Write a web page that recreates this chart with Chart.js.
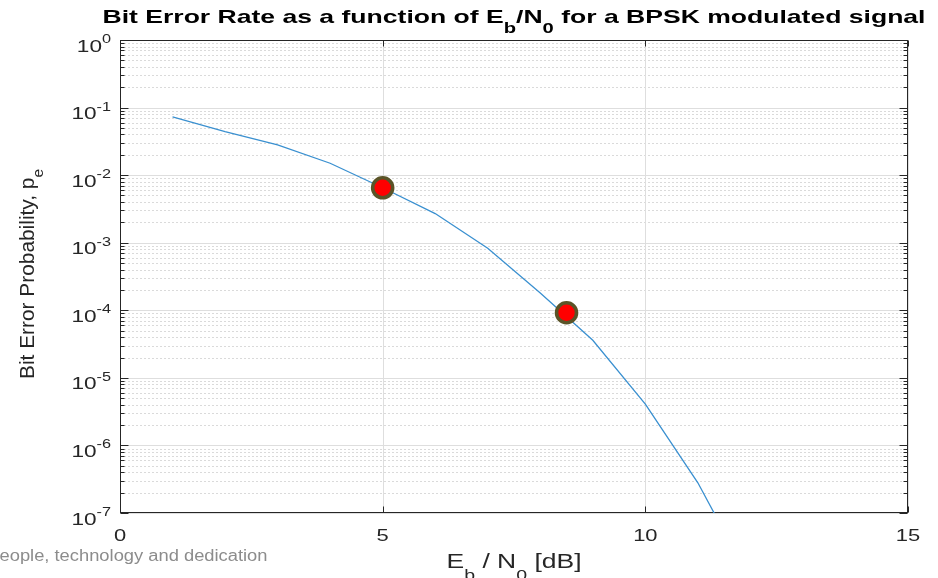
<!DOCTYPE html>
<html><head><meta charset="utf-8">
<script src="https://cdn.jsdelivr.net/npm/chart.js@4.4.1/dist/chart.umd.min.js"></script>
<style>html,body{margin:0;padding:0;background:#fff;overflow:hidden}#wrap{width:938px;height:578px;position:relative}</style>
</head><body><div id="wrap"><canvas id="c" width="938" height="578"></canvas></div>
<script>
// ---- data ----
const ebn0 = [1, 2, 3, 4, 5, 6, 7, 8, 9, 10, 11, 12];
const ber = [0.073, 0.044, 0.028, 0.015, 0.0065, 0.0027, 0.00083, 0.00018, 3.6e-5, 4.1e-6, 2.8e-7, 1e-8];
const markX = [5, 8.5];
const markY = [0.0065, 9.2e-5];
const xTicks = [0, 5, 10, 15];
const yTickExp = [0, -1, -2, -3, -4, -5, -6, -7];
const titleParts = [["Bit Error Rate as a function of E", 0], ["b", 1], ["/N", 0], ["0", 1], [" for a BPSK modulated signal", 0]];
const xLabelParts = [["E", 0], ["b", 1], [" / N", 0], ["0", 1], [" [dB]", 0]];
const yLabelParts = [["Bit Error Probability, p", 0], ["e", 1]];
const footerText = "eople, technology and dedication";

const FONT = '"Liberation Sans", Arial, Helvetica, sans-serif';

function partFont(size, mode, weight, subScale) {
  const s = mode === 0 ? size : size * subScale;
  return weight + ' ' + s.toFixed(2) + 'px ' + FONT;
}
function richWidth(ctx, parts, size, weight, subScale) {
  let w = 0;
  for (const [t, m] of parts) { ctx.font = partFont(size, m, weight, subScale); w += ctx.measureText(t).width; }
  return w;
}
function drawParts(ctx, parts, size, weight, startX, subScale, subDy, supDy) {
  let x = startX;
  for (const [t, m] of parts) {
    ctx.font = partFont(size, m, weight, subScale);
    let dy = 0;
    if (m === 1) dy = size * subDy;
    if (m === 2) dy = -size * supDy;
    ctx.fillText(t, x, dy);
    x += ctx.measureText(t).width;
  }
}
function drawRich(ctx, parts, o) {
  const weight = o.weight || 'normal';
  const subScale = o.subScale || 0.72;
  const w = richWidth(ctx, parts, o.size, weight, subScale);
  const sx = o.width ? o.width / w : (o.sx || 1);
  ctx.save();
  ctx.fillStyle = o.color || '#262626';
  ctx.textBaseline = 'alphabetic';
  ctx.textAlign = 'left';
  ctx.translate(o.x, o.y);
  if (o.rotate) ctx.rotate(o.rotate);
  ctx.scale(sx, o.sy || 1);
  let start = 0;
  if (o.align === 'center') start = -w / 2;
  else if (o.align === 'right') start = -w;
  drawParts(ctx, parts, o.size, weight, start, subScale, o.subDy || 0.5, o.supDy || 0.5);
  ctx.restore();
}

const framePlugin = {
  id: 'frame',
  beforeDatasetsDraw(chart) {
    const ctx = chart.ctx, a = chart.chartArea;
    const xs = chart.scales.x, ys = chart.scales.y;
    ctx.save();
    ctx.strokeStyle = '#dadada';
    ctx.lineWidth = 1;
    ctx.setLineDash([2, 2]);
    for (let e = -7; e < 0; e++) {
      for (let m = 2; m <= 9; m++) {
        const y = Math.round(ys.getPixelForValue(m * Math.pow(10, e))) + 0.5;
        ctx.beginPath(); ctx.moveTo(a.left, y); ctx.lineTo(a.right, y); ctx.stroke();
      }
    }
    ctx.setLineDash([]);
    ctx.strokeStyle = '#dedede';
    for (const e of yTickExp) {
      const y = Math.round(ys.getPixelForValue(Math.pow(10, e))) + 0.5;
      ctx.beginPath(); ctx.moveTo(a.left, y); ctx.lineTo(a.right, y); ctx.stroke();
    }
    for (const v of xTicks) {
      const x = Math.round(xs.getPixelForValue(v)) + 0.5;
      ctx.beginPath(); ctx.moveTo(x, a.top); ctx.lineTo(x, a.bottom); ctx.stroke();
    }
    ctx.strokeStyle = '#262626';
    const L = Math.round(a.left) + 0.5, R = Math.round(a.right) - 0.5, T = Math.round(a.top) + 0.5, B = Math.round(a.bottom) - 0.5;
    ctx.strokeRect(L, T, R - L, B - T);
    for (let e = -7; e <= 0; e++) {
      for (let m = 1; m <= 9; m++) {
        if (e === 0 && m > 1) break;
        const y = Math.round(ys.getPixelForValue(m * Math.pow(10, e))) + 0.5;
        const len = m === 1 ? 8 : 4;
        ctx.beginPath(); ctx.moveTo(L, y); ctx.lineTo(L + len, y); ctx.stroke();
        ctx.beginPath(); ctx.moveTo(R, y); ctx.lineTo(R - len, y); ctx.stroke();
      }
    }
    for (const v of xTicks) {
      const x = Math.round(xs.getPixelForValue(v)) + 0.5;
      ctx.beginPath(); ctx.moveTo(x, B); ctx.lineTo(x, B - 6); ctx.stroke();
      ctx.beginPath(); ctx.moveTo(x, T); ctx.lineTo(x, T + 6); ctx.stroke();
    }
    ctx.restore();
  },
  afterDraw(chart) {
    const ctx = chart.ctx, a = chart.chartArea;
    const xs = chart.scales.x, ys = chart.scales.y;
    for (const e of yTickExp) {
      const y = ys.getPixelForValue(Math.pow(10, e));
      drawRich(ctx, [["10", 0], [String(e), 2]], { x: 111, y: y + 11.5, size: 17, sx: 1.33, align: 'right', supDy: 0.5 });
    }
    for (const v of xTicks) {
      const x = xs.getPixelForValue(v);
      drawRich(ctx, [[String(v), 0]], { x: x, y: a.bottom + 28, size: 16.5, sx: 1.33, align: 'center' });
    }
    drawRich(ctx, titleParts, { x: 514, y: 22.7, size: 19, weight: 'bold', width: 823, align: 'center', color: '#000', subScale: 0.76, subDy: 0.55 });
    drawRich(ctx, xLabelParts, { x: 514, y: 567.7, size: 20, width: 135, align: 'center', subScale: 0.74, subDy: 0.6 });
    drawRich(ctx, yLabelParts, { x: 33.5, y: 274, size: 18.5, rotate: -Math.PI / 2, width: 210, sy: 1.05, align: 'center', subScale: 0.74, subDy: 0.5 });
    drawRich(ctx, [[footerText, 0]], { x: -0.5, y: 560.7, size: 16, width: 268, align: 'left', color: '#8c8c8c' });
  }
};

new Chart(document.getElementById('c'), {
  type: 'scatter',
  data: {
    datasets: [
      {
        label: 'markers',
        data: markX.map((x, i) => ({ x: x, y: markY[i] })),
        showLine: false,
        pointRadius: 10,
        pointHoverRadius: 10,
        pointBorderWidth: 3.6,
        pointBackgroundColor: '#ff0000',
        pointBorderColor: '#5a5428',
        order: 0
      },
      {
        label: 'BER',
        data: ebn0.map((x, i) => ({ x: x, y: ber[i] })),
        showLine: true,
        borderColor: '#3a90d0',
        borderWidth: 1.3,
        pointRadius: 0,
        tension: 0,
        fill: false,
        order: 1
      }
    ]
  },
  options: {
    responsive: false,
    animation: false,
    devicePixelRatio: 1,
    events: [],
    layout: { padding: { left: 120, right: 30, top: 40, bottom: 65 } },
    plugins: { legend: { display: false }, tooltip: { enabled: false }, title: { display: false } },
    scales: {
      x: { type: 'linear', min: 0, max: 15, display: false },
      y: { type: 'logarithmic', min: 1e-7, max: 1, display: false }
    }
  },
  plugins: [framePlugin]
});
</script>
</body></html>
